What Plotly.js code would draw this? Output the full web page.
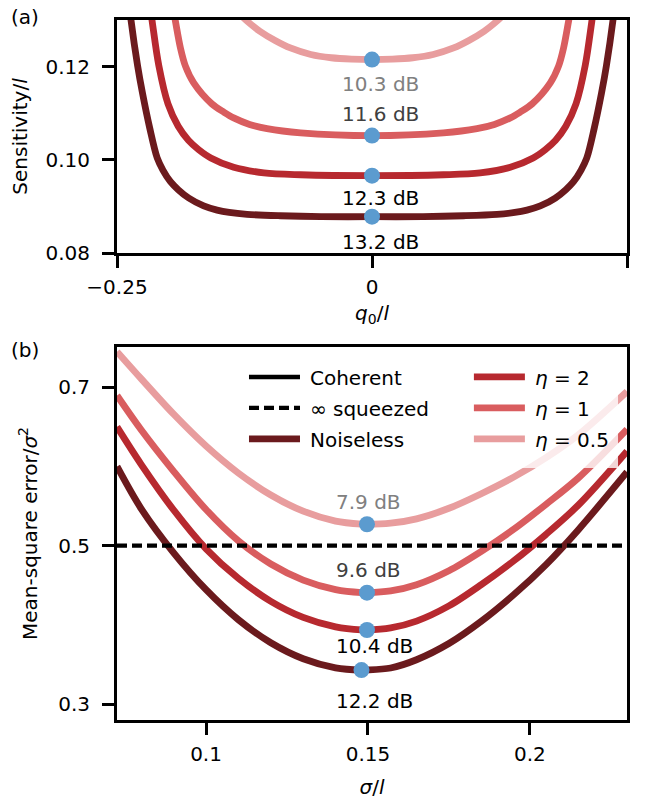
<!DOCTYPE html>
<html>
<head>
<meta charset="utf-8">
<script src="https://cdn.plot.ly/plotly-3.0.1.min.js"></script>
<style>
  html, body { margin: 0; padding: 0; background: #fff; }
  #chart { width: 648px; height: 799px; }
</style>
</head>
<body>
<div id="chart"></div>
<script>
// ---------- (a) sensitivity versus displacement q0 ----------
const qNoiseless = [-0.240, -0.2361, -0.2298, -0.225, -0.2179, -0.2106, -0.205, -0.1976, -0.19, -0.1797, -0.165,
                    -0.1519, -0.14, -0.1225, -0.09, -0.05, 0,
                    0.05, 0.09, 0.1225, 0.14, 0.1519, 0.165, 0.1797, 0.19, 0.1976, 0.205, 0.2106, 0.2179,
                    0.225, 0.2298, 0.2361, 0.240];
const sensNoiseless = [0.1375, 0.1297, 0.1202, 0.1143, 0.1068, 0.1004, 0.0978, 0.0953, 0.0936, 0.0918, 0.0901,
                       0.0892, 0.0887, 0.0883, 0.0880, 0.0878, 0.0878,
                       0.0878, 0.0880, 0.0883, 0.0887, 0.0892, 0.0901, 0.0918, 0.0936, 0.0953, 0.0978, 0.1004, 0.1068,
                       0.1143, 0.1202, 0.1297, 0.1375];

const qEta2 = [-0.220, -0.2155, -0.209, -0.200, -0.190, -0.180, -0.170, -0.158, -0.1356, -0.106, -0.07, 0,
               0.07, 0.106, 0.1356, 0.158, 0.170, 0.180, 0.190, 0.200, 0.209, 0.2155, 0.220];
const sensEta2 = [0.1370, 0.1297, 0.1202, 0.1120, 0.1072, 0.1042, 0.1022, 0.1004, 0.0984, 0.0972, 0.0968, 0.0966,
                  0.0968, 0.0972, 0.0984, 0.1004, 0.1022, 0.1042, 0.1072, 0.1120, 0.1202, 0.1297, 0.1370];

const qEta1 = [-0.197, -0.1927, -0.1878, -0.1829, -0.1748, -0.157, -0.145, -0.1356, -0.120, -0.1029, -0.07, 0,
               0.07, 0.1029, 0.120, 0.1356, 0.145, 0.157, 0.1748, 0.1829, 0.1878, 0.1927, 0.197];
const sensEta1 = [0.1350, 0.1297, 0.1240, 0.1201, 0.1165, 0.1120, 0.1102, 0.1090, 0.1076, 0.1067, 0.1058, 0.1052,
                  0.1058, 0.1067, 0.1076, 0.1090, 0.1102, 0.1120, 0.1165, 0.1201, 0.1240, 0.1297, 0.1350];

const qEta05 = [-0.130, -0.120, -0.110, -0.095, -0.080, -0.060, -0.040, -0.020, 0,
                0.020, 0.040, 0.060, 0.080, 0.095, 0.110, 0.120, 0.130];
const sensEta05 = [0.1313, 0.1293, 0.1276, 0.1256, 0.1240, 0.1226, 0.1219, 0.1216, 0.1215,
                   0.1216, 0.1219, 0.1226, 0.1240, 0.1256, 0.1276, 0.1293, 0.1313];

// optimum points and their squeezing
const optQ = [0, 0, 0, 0];
const optSens = [0.0878, 0.0966, 0.1052, 0.1215];
const optSensLabels = ['13.2 dB', '12.3 dB', '11.6 dB', '10.3 dB'];

// ---------- (b) mean-square error versus sigma ----------
const sigma = [0.0725, 0.08, 0.09, 0.10, 0.11, 0.12, 0.13, 0.14, 0.148, 0.1497, 0.157, 0.165, 0.175, 0.185,
               0.195, 0.205, 0.215, 0.23];
const mseNoiseless = [0.600, 0.5464, 0.4909, 0.4443, 0.4064, 0.3774, 0.3572, 0.3457, 0.3429, 0.3430, 0.3455,
                      0.3559, 0.3764, 0.4045, 0.4379, 0.4761, 0.5202, 0.593];
const mseEta2 = [0.650, 0.6024, 0.545, 0.496, 0.4586, 0.4297, 0.4094, 0.3975, 0.3936, 0.3935, 0.3961,
                 0.4047, 0.4239, 0.4508, 0.4807, 0.5143, 0.5513, 0.6192];
const mseEta1 = [0.6897, 0.6461, 0.5939, 0.5456, 0.506, 0.4768, 0.4565, 0.4445, 0.4407, 0.4406, 0.4428,
                 0.4507, 0.4684, 0.4929, 0.5206, 0.5522, 0.5856, 0.6469];
const mseEta05 = [0.745, 0.7106, 0.666, 0.6258, 0.5916, 0.564, 0.5435, 0.531, 0.5272, 0.527, 0.5283,
                  0.5338, 0.5472, 0.5656, 0.5865, 0.6111, 0.640, 0.6946];

const sigSqueezed = [0.0725, 0.23];
const mseSqueezed = [0.5, 0.5];
const sigCoherent = [null];
const mseCoherent = [null];

const optSig = [0.148, 0.1497, 0.1497, 0.1497];
const optMse = [0.3429, 0.3935, 0.4406, 0.527];
const optMseLabels = ['12.2 dB', '10.4 dB', '9.6 dB', '7.9 dB'];

// ---------- styling ----------
const FONT = 'DejaVu Sans, Arial, sans-serif';
const FS = 20;
const C_NOISELESS = '#6b1a1d';
const C_ETA2 = '#b7292f';
const C_ETA1 = '#d95d5f';
const C_ETA05 = '#e89d9e';
const C_DOT = '#5b9bcf';
const LW = 6.8;
const GAP = '\u2005';

function curve(x, y, color, xa, ya, extra) {
  return Object.assign({
    x: x, y: y, xaxis: xa, yaxis: ya, type: 'scatter', mode: 'lines',
    line: { color: color, width: LW, shape: 'spline', smoothing: 0.9 },
    showlegend: false, hoverinfo: 'skip'
  }, extra || {});
}

const traces = [
  curve(qNoiseless, sensNoiseless, C_NOISELESS, 'x', 'y'),
  curve(qEta2, sensEta2, C_ETA2, 'x', 'y'),
  curve(qEta1, sensEta1, C_ETA1, 'x', 'y'),
  curve(qEta05, sensEta05, C_ETA05, 'x', 'y'),
  { x: optQ, y: optSens, xaxis: 'x', yaxis: 'y', type: 'scatter', mode: 'markers',
    marker: { color: C_DOT, size: 16 }, showlegend: false, hoverinfo: 'skip', cliponaxis: false },

  { x: sigCoherent, y: mseCoherent, xaxis: 'x2', yaxis: 'y2', type: 'scatter', mode: 'lines',
    line: { color: '#000', width: 4.5 }, name: GAP + 'Coherent', legend: 'legend', legendgroup: 'c1',
    legendrank: 1, showlegend: true, hoverinfo: 'skip' },
  curve(sigma, mseNoiseless, C_NOISELESS, 'x2', 'y2',
    { name: GAP + 'Noiseless', legend: 'legend', legendgroup: 'c3', legendrank: 3, showlegend: true }),
  curve(sigma, mseEta2, C_ETA2, 'x2', 'y2',
    { name: GAP + '<i>η</i> = 2', legend: 'legend2', legendgroup: 'e1', legendrank: 1, showlegend: true }),
  curve(sigma, mseEta1, C_ETA1, 'x2', 'y2',
    { name: GAP + '<i>η</i> = 1', legend: 'legend2', legendgroup: 'e2', legendrank: 2, showlegend: true }),
  curve(sigma, mseEta05, C_ETA05, 'x2', 'y2',
    { name: GAP + '<i>η</i> = 0.5', legend: 'legend2', legendgroup: 'e3', legendrank: 3, showlegend: true }),
  // dashed reference drawn above the curves
  { x: sigSqueezed, y: mseSqueezed, xaxis: 'x2', yaxis: 'y2', type: 'scatter', mode: 'lines',
    line: { color: '#000', width: 4.2, dash: '10px,5px' }, name: GAP + '∞ squeezed', legend: 'legend',
    legendgroup: 'c2', legendrank: 2, showlegend: true, hoverinfo: 'skip' },
  { x: optSig, y: optMse, xaxis: 'x2', yaxis: 'y2', type: 'scatter', mode: 'markers',
    marker: { color: C_DOT, size: 16 }, showlegend: false, hoverinfo: 'skip', cliponaxis: false }
];

// labels beside the optima
const labelColors = ['#000000', '#000000', '#404040', '#808080'];
const topShift = [-25, -22, 22, -24];
const botShift = [-31, -16, 23, 22];
const annotations = [];
for (let i = 0; i < optSens.length; i++) {
  annotations.push({
    x: optQ[i], y: optSens[i], xref: 'x', yref: 'y', text: optSensLabels[i], showarrow: false,
    xanchor: 'left', yanchor: 'middle', xshift: -32, yshift: topShift[i],
    font: { family: FONT, size: FS, color: labelColors[i] }
  });
  annotations.push({
    x: optSig[i], y: optMse[i], xref: 'x2', yref: 'y2', text: optMseLabels[i], showarrow: false,
    xanchor: 'left', yanchor: 'middle', xshift: i === 0 ? -27 : -33, yshift: botShift[i],
    font: { family: FONT, size: FS, color: labelColors[i] }
  });
}
annotations.push({ x: -0.2125, y: 1.004, xref: 'paper', yref: 'paper', text: '(a)', showarrow: false,
  xanchor: 'left', yanchor: 'middle', font: { family: FONT, size: FS, color: '#000' } });
annotations.push({ x: -0.2125, y: 0.529, xref: 'paper', yref: 'paper', text: '(b)', showarrow: false,
  xanchor: 'left', yanchor: 'middle', font: { family: FONT, size: FS, color: '#000' } });

const axisCommon = {
  showgrid: false, zeroline: false, showline: true, mirror: true, linecolor: '#000', linewidth: 3,
  ticks: 'outside', ticklen: 12, tickwidth: 3, tickcolor: '#000',
  tickfont: { family: FONT, size: FS, color: '#000' }, fixedrange: true
};

const legendCommon = {
  xref: 'paper', yref: 'paper', xanchor: 'left', yanchor: 'top',
  bgcolor: 'rgba(0,0,0,0)', borderwidth: 0, tracegroupgap: 2, itemwidth: 51,
  traceorder: 'grouped', font: { family: FONT, size: FS, color: '#000' }
};

const layout = {
  width: 648, height: 799,
  margin: { l: 116.5, r: 21, t: 20, b: 79 },
  paper_bgcolor: '#fff', plot_bgcolor: '#fff',
  font: { family: FONT, size: FS, color: '#000' },
  xaxis: Object.assign({}, axisCommon, {
    domain: [0, 1], anchor: 'y', range: [-0.25, 0.25], ticklabelstandoff: 2,
    tickvals: [-0.25, 0, 0.25], ticktext: ['−0.25', '0', '0.25'],
    title: { text: '<i>q</i><sub>0</sub>/<i>l</i>', font: { family: FONT, size: FS }, standoff: 8 }
  }),
  yaxis: Object.assign({}, axisCommon, {
    domain: [0.6671, 1], anchor: 'x', range: [0.08, 0.13], ticklabelstandoff: 8,
    tickvals: [0.08, 0.10, 0.12], ticktext: ['0.08', '0.10', '0.12'],
    title: { text: 'Sensitivity/<i>l</i>', font: { family: FONT, size: FS }, standoff: 13 }
  }),
  xaxis2: Object.assign({}, axisCommon, {
    domain: [0, 1], anchor: 'y2', range: [0.0725, 0.23], ticklabelstandoff: 2,
    tickvals: [0.1, 0.15, 0.2], ticktext: ['0.1', '0.15', '0.2'],
    title: { text: '<i>σ</i>/<i>l</i>', font: { family: FONT, size: FS }, standoff: 20 }
  }),
  yaxis2: Object.assign({}, axisCommon, {
    domain: [0, 0.5329], anchor: 'x2', range: [0.2798, 0.7509], ticklabelstandoff: 8,
    tickvals: [0.3, 0.5, 0.7], ticktext: ['0.3', '0.5', '0.7'],
    title: { text: 'Mean-square error/<i>σ</i><sup>2</sup>', font: { family: FONT, size: FS }, standoff: 16 }
  }),
  legend: Object.assign({}, legendCommon, { x: 0.249, y: 0.518 }),
  legend2: Object.assign({}, legendCommon, { x: 0.690, y: 0.518 }),
  shapes: [{
    type: 'rect', xref: 'x2 domain', yref: 'y2 domain', x0: 0.2458, x1: 0.9824, y0: 0.6756, y1: 0.973,
    fillcolor: 'rgba(255,255,255,0.8)', line: { width: 0 }, layer: 'above'
  }],
  annotations: annotations,
  showlegend: true
};

Plotly.newPlot('chart', traces, layout, { staticPlot: true, displayModeBar: false });
</script>
</body>
</html>
